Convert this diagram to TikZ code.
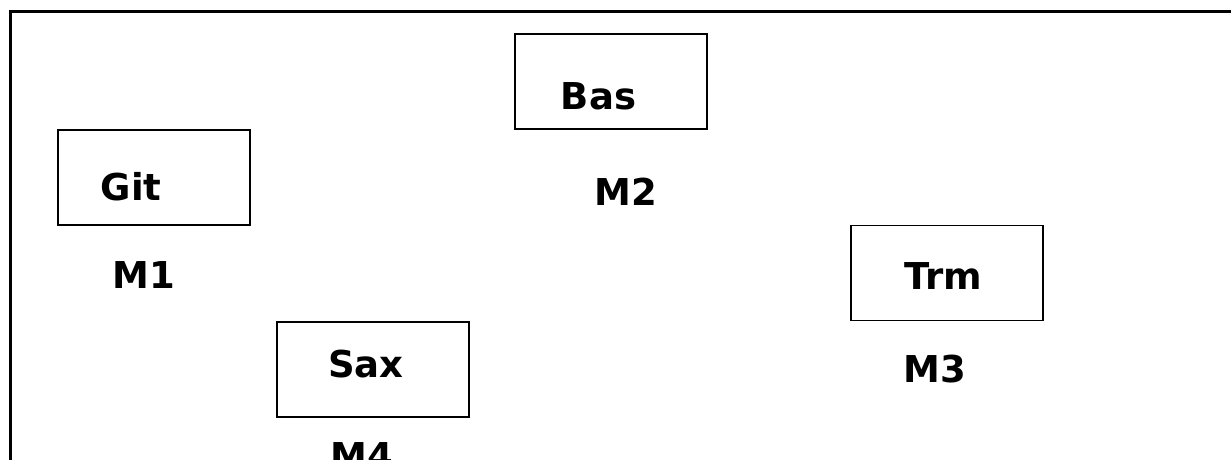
\documentclass[tikz,border=0pt]{standalone}
\usepackage{fontspec}
\setmainfont{DejaVu Sans}
\begin{document}
\begin{tikzpicture}[x=1pt,y=-1pt,
  box/.style={draw=black,line width=1.8pt,rectangle,minimum width=192pt,minimum height=95pt,inner sep=0pt},
  lbl/.style={font=\fontsize{37}{42}\selectfont\bfseries,anchor=base,inner sep=0pt},
  frameline/.style={line width=3pt}]
\useasboundingbox (0,0) rectangle (1231,459);
\clip (0,0) rectangle (1231,459);
% frame
\coordinate (fbl) at (10.5,460);
\coordinate (ftr) at (1232,11);
\draw[frameline] (fbl) |- (ftr);
% boxes
\node[box] (git) at (154,177.5) {};
\node[box] (bas) at (611,81.5) {};
\node[box] (trm) at (947,273) {};
\node[box] (sax) at (373,369.5) {};
% texts
\node[lbl] (tgit) at (131,200) {Git};
\node[lbl] (tbas) at (598.5,109) {Bas};
\node[lbl] (ttrm) at (943,289) {Trm};
\node[lbl] (tsax) at (366,377) {Sax};
\node[lbl] (m1) at (143.5,288) {M1};
\node[lbl] (m2) at (626,205) {M2};
\node[lbl] (m3) at (935,382) {M3};
\node[lbl] (m4) at (362,469) {M4};
\end{tikzpicture}
\end{document}
